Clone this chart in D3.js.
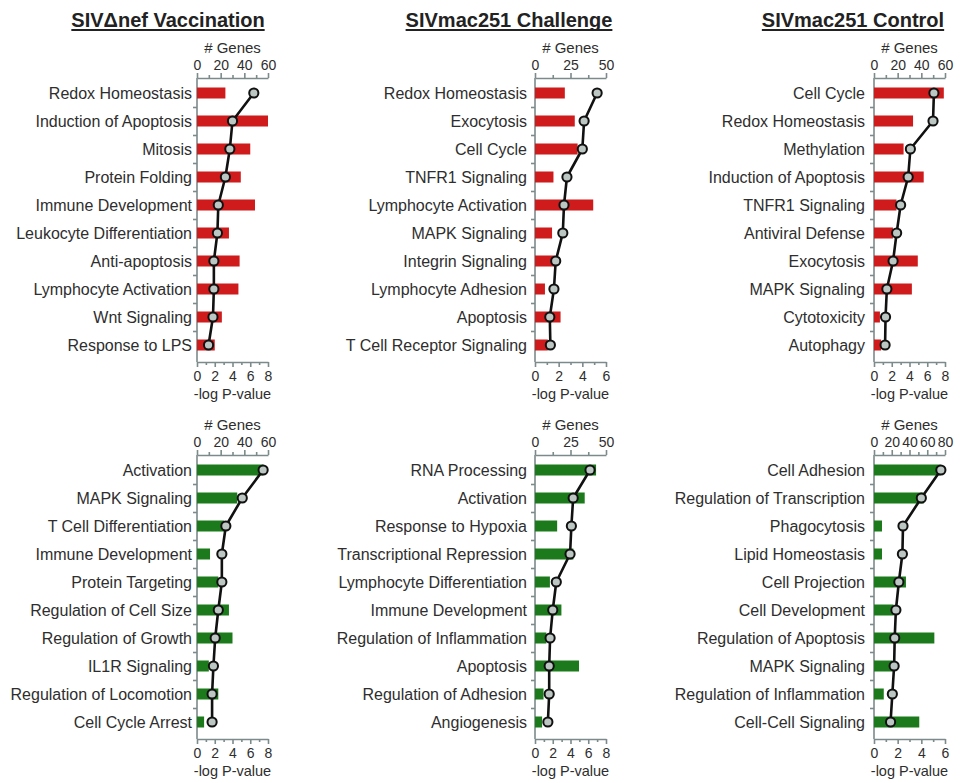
<!DOCTYPE html>
<html><head><meta charset="utf-8">
<script src="https://cdn.jsdelivr.net/npm/d3@7"></script>
<style>body{margin:0;background:#fff} svg{display:block}</style>
</head><body><svg id="c" width="960" height="783"></svg>
<script>
const titles = ["SIVΔnef Vaccination", "SIVmac251 Challenge", "SIVmac251 Control"];

const cats1 = ["Redox Homeostasis","Induction of Apoptosis","Mitosis","Protein Folding","Immune Development","Leukocyte Differentiation","Anti-apoptosis","Lymphocyte Activation","Wnt Signaling","Response to LPS"];
const genes1 = [24, 60, 45, 37, 49, 27, 36, 35, 21, 15];
const pval1 = [6.4, 4.0, 3.7, 3.2, 2.4, 2.3, 1.9, 1.9, 1.8, 1.3];

const cats2 = ["Redox Homeostasis","Exocytosis","Cell Cycle","TNFR1 Signaling","Lymphocyte Activation","MAPK Signaling","Integrin Signaling","Lymphocyte Adhesion","Apoptosis","T Cell Receptor Signaling"];
const genes2 = [21, 28, 30, 13, 41, 12, 14, 7, 18, 9];
const pval2 = [5.25, 4.15, 4.0, 2.7, 2.45, 2.35, 1.75, 1.6, 1.25, 1.3];

const cats3 = ["Cell Cycle","Redox Homeostasis","Methylation","Induction of Apoptosis","TNFR1 Signaling","Antiviral Defense","Exocytosis","MAPK Signaling","Cytotoxicity","Autophagy"];
const genes3 = [59, 33, 25, 42, 19, 16, 37, 32, 5, 6];
const pval3 = [6.75, 6.65, 4.1, 3.85, 3.0, 2.55, 2.15, 1.45, 1.3, 1.25];

const cats4 = ["Activation","MAPK Signaling","T Cell Differentiation","Immune Development","Protein Targeting","Regulation of Cell Size","Regulation of Growth","IL1R Signaling","Regulation of Locomotion","Cell Cycle Arrest"];
const genes4 = [56, 34, 23, 11, 18, 27, 30, 10, 18, 6];
const pval4 = [7.45, 5.1, 3.25, 2.8, 2.8, 2.4, 2.05, 1.85, 1.7, 1.7];

const cats5 = ["RNA Processing","Activation","Response to Hypoxia","Transcriptional Repression","Lymphocyte Differentiation","Immune Development","Regulation of Inflammation","Apoptosis","Regulation of Adhesion","Angiogenesis"];
const genes5 = [43, 35, 15.6, 27, 10.5, 18.6, 8, 31, 6, 5];
const pval5 = [6.2, 4.3, 4.1, 3.95, 2.4, 2.0, 1.7, 1.6, 1.6, 1.45];

const cats6 = ["Cell Adhesion","Regulation of Transcription","Phagocytosis","Lipid Homeostasis","Cell Projection","Cell Development","Regulation of Apoptosis","MAPK Signaling","Regulation of Inflammation","Cell-Cell Signaling"];
const genes6 = [75, 56, 9, 9, 36, 22, 68, 21, 11, 51];
const pval6 = [5.65, 4.0, 2.45, 2.4, 2.1, 1.85, 1.75, 1.7, 1.55, 1.4];

const geneTicks = [[0,20,40,60],[0,25,50],[0,20,40,60],[0,20,40,60],[0,25,50],[0,20,40,60,80]];
const pTicks = [[0,2,4,6,8],[0,2,4,6],[0,2,4,6,8],[0,2,4,6,8],[0,2,4,6,8],[0,2,4,6]];

const panels = [
  {cats: cats1, genes: genes1, pval: pval1, color: "red"},
  {cats: cats2, genes: genes2, pval: pval2, color: "red"},
  {cats: cats3, genes: genes3, pval: pval3, color: "red"},
  {cats: cats4, genes: genes4, pval: pval4, color: "green"},
  {cats: cats5, genes: genes5, pval: pval5, color: "green"},
  {cats: cats6, genes: genes6, pval: pval6, color: "green"}
];

const COLORS = {red: "#cf1b1b", green: "#1c7a1c"};
const AXIS = "#7d8a8a";
const TEXT = "#2e2e2e";
const FONT = "'Liberation Sans', Arial, sans-serif";
const colX = [197, 535, 874];
const labelGap = [5, 8, 9];
const titleX = [168, 509, 853];
const plotW = 71;
const rowFirst = [93, 470];
const step = 28;

const svg = d3.select("#c").style("font-family", FONT);

function halfSteps(ticks) {
  const out = [];
  for (let i = 0; i < ticks.length - 1; i++) out.push((ticks[i] + ticks[i+1]) / 2);
  return out;
}

function styleAxis(g) {
  g.selectAll("path, line").attr("stroke", AXIS).attr("stroke-width", 1.6);
  g.selectAll("text").attr("fill", TEXT).style("font-family", FONT);
}

panels.forEach((p, i) => {
  const col = i % 3, row = Math.floor(i / 3);
  const x0 = colX[col];
  const y0 = rowFirst[row];
  const n = p.cats.length;
  const topY = y0 - 15;
  const botY = y0 + (n - 1) * step + 17;
  const gT = geneTicks[i], pT = pTicks[i];

  const xg = d3.scaleLinear().domain([0, gT[gT.length-1]]).range([x0, x0 + plotW]);
  const xp = d3.scaleLinear().domain([0, pT[pT.length-1]]).range([x0, x0 + plotW]);
  const yc = c => y0 + p.cats.indexOf(c) * step;
  const yIdx = d3.scaleLinear().domain([0, n]).range([y0 - step/2, y0 - step/2 + n*step]);

  const g = svg.append("g");

  if (row === 0) {
    const t = g.append("text").attr("x", titleX[col]).attr("y", 20)
      .attr("text-anchor", "middle").attr("dominant-baseline", "central")
      .attr("font-size", 20).attr("font-weight", "bold").attr("fill", "#222")
      .text(titles[col]);
    const bb = t.node().getBBox();
    g.append("line").attr("x1", bb.x).attr("x2", bb.x + bb.width)
      .attr("y1", 30).attr("y2", 30).attr("stroke", "#222").attr("stroke-width", 1.8);
  }

  g.append("text").attr("x", x0 + plotW/2).attr("y", y0 - 46)
    .attr("text-anchor", "middle").attr("dominant-baseline", "central")
    .attr("font-size", 15).attr("fill", TEXT).text("# Genes");

  const topMinor = g.append("g").attr("transform", `translate(0,${topY})`)
    .call(d3.axisTop(xg).tickValues(halfSteps(gT)).tickSize(3).tickFormat(""));
  topMinor.select(".domain").remove();
  styleAxis(topMinor);
  const topAx = g.append("g").attr("transform", `translate(0,${topY})`)
    .call(d3.axisTop(xg).tickValues(gT).tickSize(5).tickSizeOuter(0).tickPadding(3).tickFormat(d3.format("d")));
  topAx.selectAll("text").attr("font-size", 14);
  styleAxis(topAx);

  const botMinor = g.append("g").attr("transform", `translate(0,${botY})`)
    .call(d3.axisBottom(xp).tickValues(halfSteps(pT)).tickSize(3).tickFormat(""));
  botMinor.select(".domain").remove();
  styleAxis(botMinor);
  const botAx = g.append("g").attr("transform", `translate(0,${botY})`)
    .call(d3.axisBottom(xp).tickValues(pT).tickSize(5).tickSizeOuter(0).tickPadding(4).tickFormat(d3.format("d")));
  botAx.selectAll("text").attr("font-size", 14);
  styleAxis(botAx);

  g.append("text").attr("x", x0 + plotW/2).attr("y", botY + 32)
    .attr("text-anchor", "middle").attr("dominant-baseline", "central")
    .attr("font-size", 14.5).attr("fill", TEXT).text("-log P-value");

  const leftAx = g.append("g").attr("transform", `translate(${x0},0)`)
    .call(d3.axisLeft(yIdx).tickValues(d3.range(1, n)).tickSize(4).tickSizeOuter(0).tickFormat(""));
  leftAx.select(".domain").attr("d", `M0,${topY}V${botY}`);
  styleAxis(leftAx);

  g.selectAll("text.cat").data(p.cats).join("text").attr("class", "cat")
    .attr("x", x0 - labelGap[col]).attr("y", d => yc(d))
    .attr("text-anchor", "end").attr("dominant-baseline", "central")
    .attr("font-size", 16).attr("fill", TEXT).text(d => d);

  g.selectAll("rect.bar").data(p.cats).join("rect").attr("class", "bar")
    .attr("x", x0).attr("y", d => yc(d) - 5.5)
    .attr("width", (d, k) => xg(p.genes[k]) - x0).attr("height", 11)
    .attr("fill", COLORS[p.color]);

  const pts = p.cats.map((c, k) => [xp(p.pval[k]), yc(c)]);
  g.append("path").attr("d", d3.line()(pts)).attr("fill", "none")
    .attr("stroke", "#111").attr("stroke-width", 2.6).attr("stroke-linejoin", "round");

  g.selectAll("circle.pt").data(pts).join("circle").attr("class", "pt")
    .attr("cx", d => d[0]).attr("cy", d => d[1]).attr("r", 4.6)
    .attr("fill", "#bcc6c2").attr("stroke", "#111").attr("stroke-width", 2);
});
</script>
</body></html>
